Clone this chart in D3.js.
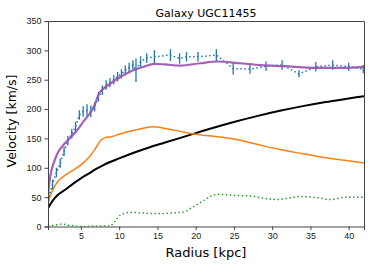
<!DOCTYPE html>
<html>
<head>
<meta charset="utf-8">
<script src="https://cdn.jsdelivr.net/npm/d3@7"></script>
<style>
    body { margin: 0; background: #fff; }
    svg { display: block; font-family: "DejaVu Sans", sans-serif; }
    .axis path, .axis line { stroke: #444; }
    .axis text { fill: #222; font-size: 9px; }
</style>
</head>
<body>
<div id="chart"></div>
<script>
//observed rotation curve (blue points with error bars)
const obsRadius = [0.8, 1.3, 1.8, 2.3, 2.8, 3.3, 3.8, 4.3, 4.8, 5.3, 5.8, 6.3, 6.8, 7.3, 7.8, 8.3, 8.8, 9.3, 9.8, 10.3, 10.8, 11.3, 11.8, 12.2, 12.8, 13.6, 14.6, 16.7, 17.9, 18.8, 20.3, 22.7, 24.9, 27.1, 29.2, 31.3, 33.5, 35.7, 37.9, 40.0, 41.9];
const obsVel = [50, 72, 92, 108, 128, 146, 158, 170, 190, 196, 198, 196, 204, 221, 232, 241, 245, 250, 255, 260, 266, 271, 275, 266, 281, 287, 289, 292, 286, 289, 289, 292, 269, 268, 273, 275, 260, 272, 275, 272, 268];
const obsErr = [8, 8, 8, 8, 8, 8, 8, 8, 8, 9, 10, 10, 8, 8, 8, 8, 8, 8, 8, 8, 8, 8, 8, 20, 9, 8, 11, 10, 9, 8, 8, 10, 10, 8, 8, 8, 6, 8, 8, 7, 7];

//model: total (purple)
const totalRadius = [0.7, 1.0, 1.5, 2.0, 2.8, 3.6, 4.5, 5.4, 6.3, 6.8, 7.35, 8.0, 8.9, 10.2, 11.5, 13.2, 14.6, 16.0, 18.0, 20.6, 22.8, 25.8, 28.5, 31.5, 35.9, 38.5, 42.0];
const totalVel = [55, 86, 110, 126, 140, 151, 164, 180, 195, 207, 226, 235, 244, 255, 264, 272, 277, 276, 274, 278, 281, 278, 275, 273, 270, 270, 272];

//dark halo (black)
const haloRadius = [0.7, 1, 1.5, 2, 3, 4, 5, 6, 7, 8, 10, 12, 14, 16, 18, 20, 22, 25, 28, 31, 34, 37, 40, 42];
const haloVel = [31, 38, 47, 54, 63, 73, 82, 90, 98, 105, 116, 126, 135, 143, 151, 159, 167, 178, 188, 197, 205, 212, 218, 222];

//stars (orange)
const starRadius = [0.7, 1.3, 2, 3, 4, 5, 6, 7, 7.6, 8.1, 9, 10, 11, 12, 13, 14.5, 16, 18, 20, 22, 25, 28, 31, 34, 37, 40, 42];
const starVel = [42, 62, 77, 88, 96, 105, 117, 135, 147, 151, 153, 157, 161, 164, 167, 170, 167, 162, 157, 154, 149, 140, 131, 124, 117, 112, 108];

//gas (green dotted)
const gasRadius = [0.7, 1.5, 2.5, 3.5, 5, 7, 8.8, 9.5, 10.2, 11.5, 13, 15, 17, 18.5, 19.5, 20.5, 21.5, 22.8, 25, 27, 29, 30.6, 32, 33.7, 36, 37.6, 39.8, 42];
const gasVel = [1, 2, 4, 2, 0, 1, 1, 10, 20, 24, 23, 22, 23, 25, 32, 40, 48, 55, 53, 52, 48, 46, 48, 51, 49, 46, 50, 50];

const xTicks = [5, 10, 15, 20, 25, 30, 35, 40];
const yTicks = [0, 50, 100, 150, 200, 250, 300, 350];

const width = 374, height = 266;
const margin = { top: 21, right: 10, bottom: 39.5, left: 48 };
const plotW = width - margin.left - margin.right;
const plotH = height - margin.top - margin.bottom;

const svg = d3.select('#chart').append('svg')
    .attr('width', width)
    .attr('height', height);

const x = d3.scaleLinear().domain([0.7, 42]).range([0, plotW]);
const y = d3.scaleLinear().domain([0, 350]).range([plotH, 0]);

const g = svg.append('g')
    .attr('transform', 'translate(' + margin.left + ',' + margin.top + ')');

g.append('clipPath').attr('id', 'clip')
    .append('rect').attr('width', plotW).attr('height', plotH);

const plot = g.append('g').attr('clip-path', 'url(#clip)');

const line = d3.line()
    .x(d => x(d[0]))
    .y(d => y(d[1]))
    .curve(d3.curveMonotoneX);

function zip(a, b) {
    return a.map((v, i) => [v, b[i]]);
}

//green gas
plot.append('path')
    .datum(zip(gasRadius, gasVel))
    .attr('d', line)
    .attr('fill', 'none')
    .attr('stroke', '#2ca02c')
    .attr('stroke-width', 1.5)
    .attr('stroke-dasharray', '1.5,2.5');

//black halo
plot.append('path')
    .datum(zip(haloRadius, haloVel))
    .attr('d', line)
    .attr('fill', 'none')
    .attr('stroke', '#000')
    .attr('stroke-width', 2);

//orange stars
plot.append('path')
    .datum(zip(starRadius, starVel))
    .attr('d', line)
    .attr('fill', 'none')
    .attr('stroke', '#ff7f0e')
    .attr('stroke-width', 1.5);

//observed: dotted line + error bars
const obs = obsRadius.map((r, i) => ({ r: r, v: obsVel[i], e: obsErr[i] }));

plot.append('path')
    .datum(obs.map(d => [d.r, d.v]))
    .attr('d', d3.line().x(d => x(d[0])).y(d => y(d[1])))
    .attr('fill', 'none')
    .attr('stroke', '#1f77b4')
    .attr('stroke-width', 1.5)
    .attr('stroke-dasharray', '1.5,2.5');

plot.selectAll('.err')
    .data(obs)
    .enter().append('line')
    .attr('class', 'err')
    .attr('x1', d => x(d.r))
    .attr('x2', d => x(d.r))
    .attr('y1', d => y(d.v - d.e))
    .attr('y2', d => y(d.v + d.e))
    .attr('stroke', '#1f77b4')
    .attr('stroke-width', 1.3);

//purple total
plot.append('path')
    .datum(zip(totalRadius, totalVel))
    .attr('d', line)
    .attr('fill', 'none')
    .attr('stroke', '#9c4fae')
    .attr('stroke-width', 2.2)
    .attr('stroke-opacity', 0.9);

//axes
g.append('g')
    .attr('class', 'axis')
    .attr('transform', 'translate(0,' + plotH + ')')
    .call(d3.axisBottom(x).tickValues(xTicks).tickSize(3.5).tickPadding(3));

g.append('g')
    .attr('class', 'axis')
    .call(d3.axisLeft(y).tickValues(yTicks).tickSize(3.5).tickPadding(3));

g.append('g')
    .attr('class', 'axis')
    .attr('transform', 'translate(' + plotW + ',0)')
    .call(d3.axisRight(y).tickValues([]).tickSizeOuter(0));

g.append('g')
    .attr('class', 'axis')
    .call(d3.axisTop(x).tickValues([]).tickSizeOuter(0));

svg.selectAll('.axis .domain').attr('stroke-width', 1);

//texts
svg.append('text')
    .attr('x', margin.left + plotW / 2)
    .attr('y', 16.5)
    .attr('text-anchor', 'middle')
    .style('font-size', '11px')
    .text('Galaxy UGC11455');

svg.append('text')
    .attr('x', margin.left + plotW / 2)
    .attr('y', 257)
    .attr('text-anchor', 'middle')
    .style('font-size', '13px')
    .text('Radius [kpc]');

svg.append('text')
    .attr('transform', 'translate(16,121) rotate(-90)')
    .attr('text-anchor', 'middle')
    .style('font-size', '12.5px')
    .text('Velocity [km/s]');
</script>
</body>
</html>
